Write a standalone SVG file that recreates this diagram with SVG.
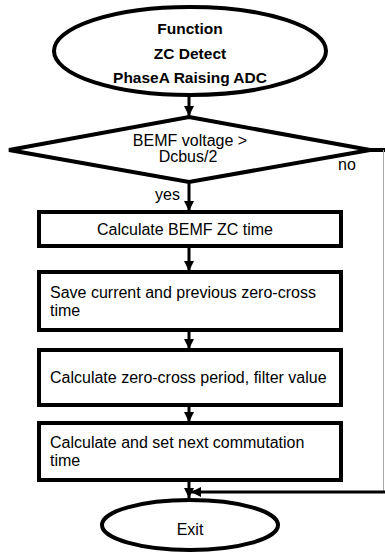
<svg xmlns="http://www.w3.org/2000/svg" width="385" height="552" viewBox="0 0 385 552">
<style>
.shape{fill:#fff;stroke:#000;stroke-width:4}
.line{fill:none;stroke:#000;stroke-width:3}
text{font-family:"Liberation Sans",Arial,sans-serif;font-size:16px;fill:#000}
.b{font-weight:bold;font-size:15.5px}
.c{text-anchor:middle}
</style>
<defs>
<marker id="arr" markerUnits="userSpaceOnUse" markerWidth="12" markerHeight="12" refX="10" refY="5" orient="auto">
<path d="M0,0 L10,5 L0,10 Z" fill="#000"/>
</marker>
</defs>
<g id="connectors">
<line class="line" x1="189" y1="96" x2="189" y2="116" marker-end="url(#arr)"/>
<line class="line" x1="189" y1="182" x2="189" y2="211" marker-end="url(#arr)"/>
<line class="line" x1="189" y1="247" x2="189" y2="271" marker-end="url(#arr)"/>
<line class="line" x1="189" y1="331" x2="189" y2="349" marker-end="url(#arr)"/>
<line class="line" x1="189" y1="406" x2="189" y2="422" marker-end="url(#arr)"/>
<line class="line" x1="189" y1="481" x2="189" y2="498" marker-end="url(#arr)"/>
<line x1="370" y1="150" x2="385" y2="150" stroke="#000" stroke-width="4"/>
<line x1="383.5" y1="150" x2="383.5" y2="492" stroke="#aaa" stroke-width="1"/>
<line class="line" x1="385" y1="492" x2="191" y2="492" stroke-width="4" marker-end="url(#arr)"/>
<text x="155" y="200">yes</text>
<text x="338" y="170">no</text>
</g>
<g id="start">
<ellipse class="shape" cx="190" cy="51" rx="136" ry="44"/>
<text class="b c" x="190" y="34">Function</text>
<text class="b c" x="190" y="59">ZC Detect</text>
<text class="b c" x="190" y="83">PhaseA Raising ADC</text>
</g>
<g id="decision">
<polygon class="shape" points="189,117 370,150 189,182 9,150"/>
<text class="c" x="190" y="146">BEMF voltage  &gt;</text>
<text class="c" x="188" y="162">Dcbus/2</text>
</g>
<g id="box1">
<rect class="shape" x="39" y="212" width="302" height="34"/>
<text class="c" x="185" y="235">Calculate BEMF ZC time</text>
</g>
<g id="box2">
<rect class="shape" x="39" y="272" width="302" height="58"/>
<text x="50" y="298">Save current and previous zero-cross</text>
<text x="50" y="316">time</text>
</g>
<g id="box3">
<rect class="shape" x="39" y="350" width="302" height="55"/>
<text x="50" y="383">Calculate zero-cross period, filter value</text>
</g>
<g id="box4">
<rect class="shape" x="39" y="423" width="302" height="57"/>
<text x="50" y="448">Calculate and set next commutation</text>
<text x="50" y="466">time</text>
</g>
<g id="exit">
<ellipse class="shape" cx="190" cy="525" rx="88" ry="25"/>
<text class="c" x="190" y="535">Exit</text>
</g>
</svg>
